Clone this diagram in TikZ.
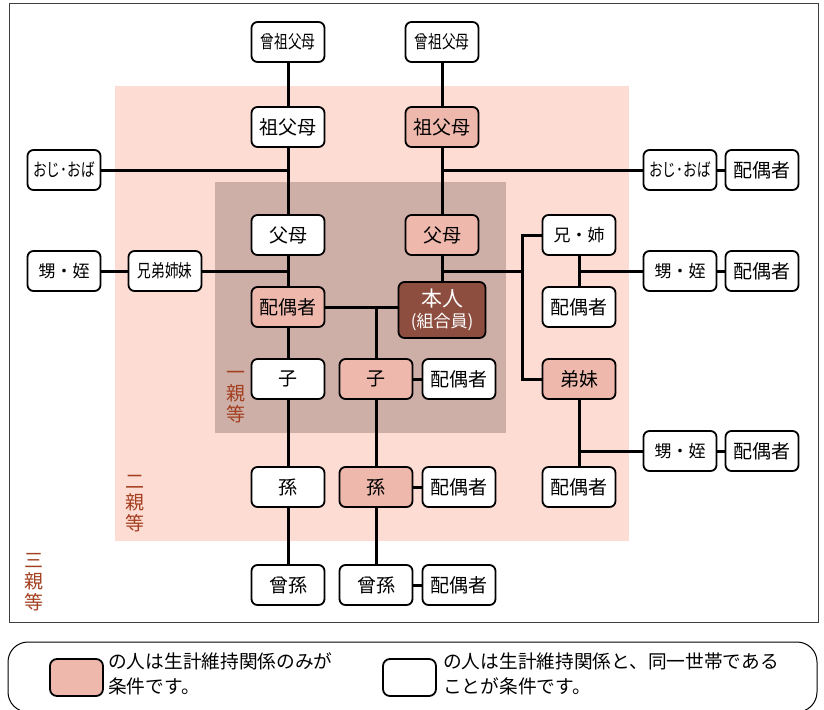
\documentclass[tikz,border=0pt]{standalone}
\usepackage{fontspec}
\setmainfont{Noto Sans CJK JP}
\newfontfamily\narrowjp[FakeStretch=0.76]{Noto Sans CJK JP}
\definecolor{kinpink}{HTML}{EEB8AD}
\definecolor{areatwo}{HTML}{FDDCD4}
\definecolor{areaone}{HTML}{CDAFA8}
\definecolor{selfbrown}{HTML}{8D4E3F}
\definecolor{degreered}{HTML}{A33F1F}

\begin{document}
\begin{tikzpicture}[x=1pt, y=-1pt,
                person/.style={draw, line width=1.8pt, rounded corners=6pt, fill=white,
                    minimum width=73pt, minimum height=40pt, inner sep=0pt,
                    font=\fontsize{19}{19}\selectfont},
                kin/.style={person, fill=kinpink},
                slim/.style={font=\narrowjp\fontsize{18}{18}\selectfont},
                dotted name/.style={font=\fontsize{17}{17}\selectfont},
                self/.style={person, fill=selfbrown, text=white, align=center,
                    minimum width=87pt, minimum height=56pt, font=\fontsize{21}{22}\selectfont},
                degree/.style={text=degreered, align=center, inner sep=0pt,
                    font=\fontsize{19}{21}\selectfont},
                note/.style={align=left, inner sep=0pt, font=\fontsize{18.7}{25}\selectfont},
                link/.style={line width=3pt}]
                \useasboundingbox (0,0) rectangle (824,709);
                \draw[black!75, line width=1pt] (9,4) rectangle (818,622);
                \fill[areatwo] (115,86) rectangle (629,541);
                \fill[areaone] (215,182) rectangle (506,433);

                \node[degree] (deg1) at (236,397) {一\\親\\等};
                \node[degree] (deg2) at (135,504) {二\\親\\等};
                \node[degree] (deg3) at (34,582) {三\\親\\等};

                \node[person, slim] (sosofuL) at (288,42) {曾祖父母};
                \node[person, slim] (sosofuR) at (442,42) {曾祖父母};
                \node[person] (sofuL) at (288,127) {祖父母};
                \node[kin] (sofuR) at (442,127) {祖父母};
                \node[person, slim] (ojiL) at (64,170) {おじ･おば};
                \node[person, slim] (ojiR) at (680,170) {おじ･おば};
                \node[person] (ojihaiR) at (762,170) {配偶者};
                \node[person] (fuboL) at (288,235) {父母};
                \node[kin] (fuboR) at (442,235) {父母};
                \node[person, dotted name] (ani) at (579,235) {兄・姉};
                \node[person, dotted name] (meiL) at (64,271) {甥・姪};
                \node[person, slim] (kyodai) at (165,271) {兄弟姉妹};
                \node[person, dotted name] (meiR) at (680,271) {甥・姪};
                \node[person] (meihaiR) at (762,271) {配偶者};
                \node[kin] (haiL) at (288,307) {配偶者};
                \node[self] (honnin) at (442,310) {本人\\[-1pt]\fontsize{17}{17}\selectfont (組合員)};
                \node[person] (anihai) at (579,307) {配偶者};
                \node[person] (koL) at (288,379) {子};
                \node[kin] (koR) at (376,379) {子};
                \node[person] (kohai) at (459,379) {配偶者};
                \node[kin] (otouto) at (579,379) {弟妹};
                \node[person, dotted name] (mei2) at (680,451) {甥・姪};
                \node[person] (mei2hai) at (762,451) {配偶者};
                \node[person] (magoL) at (288,487) {孫};
                \node[kin] (magoR) at (376,487) {孫};
                \node[person] (magohai) at (459,487) {配偶者};
                \node[person] (otohai) at (579,487) {配偶者};
                \node[person] (himagoL) at (288,585) {曾孫};
                \node[person] (himagoR) at (376,585) {曾孫};
                \node[person] (himagohai) at (459,585) {配偶者};
                \coordinate (br) at (522,271);

                \draw [link]
                    (sosofuL) edge (sofuL)
                    (sofuL) edge (fuboL)
                    (fuboL) edge (haiL)
                    (haiL) edge (koL)
                    (koL) edge (magoL)
                    (magoL) edge (himagoL)
                    (sosofuR) edge (sofuR)
                    (sofuR) edge (fuboR)
                    (fuboR) edge (honnin)
                    (ojiL) edge (ojiL -| sofuL)
                    (ojiR) edge (ojiR -| sofuR)
                    (ojiR) edge (ojihaiR)
                    (meiL) edge (kyodai)
                    (kyodai) edge (kyodai -| fuboL)
                    (meiR) edge (meihaiR)
                    (mei2) edge (mei2hai)
                    (haiL) edge (haiL -| honnin.west)
                    (koR |- haiL) edge (koR)
                    (koR) edge (magoR)
                    (magoR) edge (himagoR)
                    (koR) edge (kohai)
                    (magoR) edge (magohai)
                    (himagoR) edge (himagohai)
                    (fuboR |- br) edge (br)
                    (ani) edge (anihai)
                    (anihai |- meiR) edge (meiR)
                    (otouto) edge (otohai)
                    (otohai |- mei2) edge (mei2);
                \draw [link] (ani) -| (br) |- (otouto);

                % legend
                \draw[line width=1pt, rounded corners=20pt] (8,642) rectangle (817,712);
                \node[kin, minimum width=53pt, minimum height=37pt, rounded corners=7pt] (keykin) at (76.5,677.5) {};
                \node[note, anchor=west] (notekin) at (108,674) {の人は生計維持関係のみが\\条件です。};
                \node[person, minimum width=53pt, minimum height=37pt, rounded corners=7pt] (keyhome) at (409.5,677.5) {};
                \node[note, anchor=west] (notehome) at (443,674) {の人は生計維持関係と、同一世帯である\\ことが条件です。};
            \end{tikzpicture}
\end{document}
